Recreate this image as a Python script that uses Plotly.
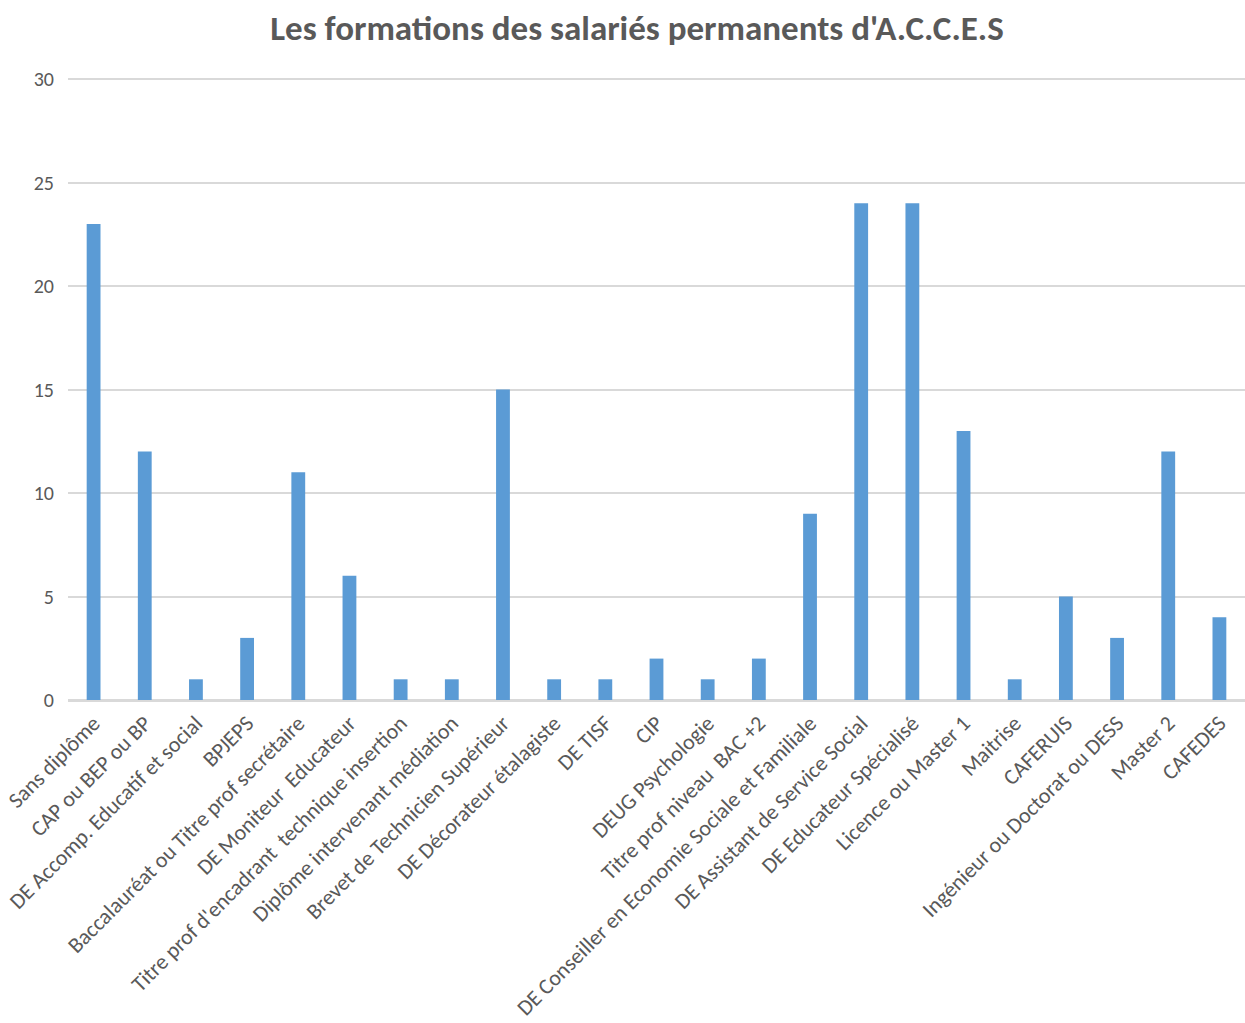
import plotly.graph_objects as go

# Formations held by permanent staff
categories = [
    "Sans diplôme",
    "CAP ou BEP ou BP",
    "DE Accomp. Educatif et social",
    "BPJEPS",
    "Baccalauréat ou Titre prof secrétaire",
    "DE Moniteur  Educateur",
    "Titre prof d'encadrant  technique insertion",
    "Diplôme intervenant médiation",
    "Brevet de Technicien Supérieur",
    "DE Décorateur étalagiste",
    "DE TISF",
    "CIP",
    "DEUG Psychologie",
    "Titre prof niveau  BAC +2",
    "DE Conseiller en Economie Sociale et Familiale",
    "DE Assistant de Service Social",
    "DE Educateur Spécialisé",
    "Licence ou Master 1",
    "Maitrise",
    "CAFERUIS",
    "Ingénieur ou Doctorat ou DESS",
    "Master 2",
    "CAFEDES",
]
counts = [23, 12, 1, 3, 11, 6, 1, 1, 15, 1, 1, 2, 1, 2, 9, 24, 24, 13, 1, 5, 3, 12, 4]

y_ticks = [0, 5, 10, 15, 20, 25, 30]

W, H = 1245, 1023
font_family = "Carlito, Lato, 'Open Sans', sans-serif"
text_color = "#595959"
grid_color = "#d9d9d9"

fig = go.Figure(
    go.Bar(
        x=categories,
        y=counts,
        marker=dict(color="#5b9bd5", line=dict(width=0)),
        hoverinfo="x+y",
    )
)

fig.update_layout(
    width=W,
    height=H,
    margin=dict(l=68, r=0, t=78, b=323, pad=0),
    paper_bgcolor="white",
    plot_bgcolor="white",
    bargap=0.73,
    showlegend=False,
    title=dict(
        text="<b>Les formations des salariés permanents d'A.C.C.E.S</b>",
        x=637 / W,
        xanchor="center",
        y=1 - 28 / H,
        yanchor="middle",
        font=dict(family=font_family, size=35, color=text_color),
    ),
    font=dict(family=font_family, color=text_color),
)

fig.update_xaxes(
    type="category",
    tickangle=-45,
    tickfont=dict(size=22, color=text_color),
    showgrid=False,
    showline=True,
    linecolor=grid_color,
    linewidth=1.5,
    ticks="",
    automargin=False,
    fixedrange=True,
)

fig.update_yaxes(
    range=[0, 30.05],
    tickvals=y_ticks,
    ticktext=[str(v) for v in y_ticks],
    tickfont=dict(size=20, color=text_color),
    showgrid=True,
    gridcolor=grid_color,
    gridwidth=1.5,
    zeroline=True,
    zerolinecolor=grid_color,
    zerolinewidth=1.5,
    showline=False,
    ticks="",
    ticklabelstandoff=13,
    automargin=False,
    fixedrange=True,
)

fig.write_html("out.html")
